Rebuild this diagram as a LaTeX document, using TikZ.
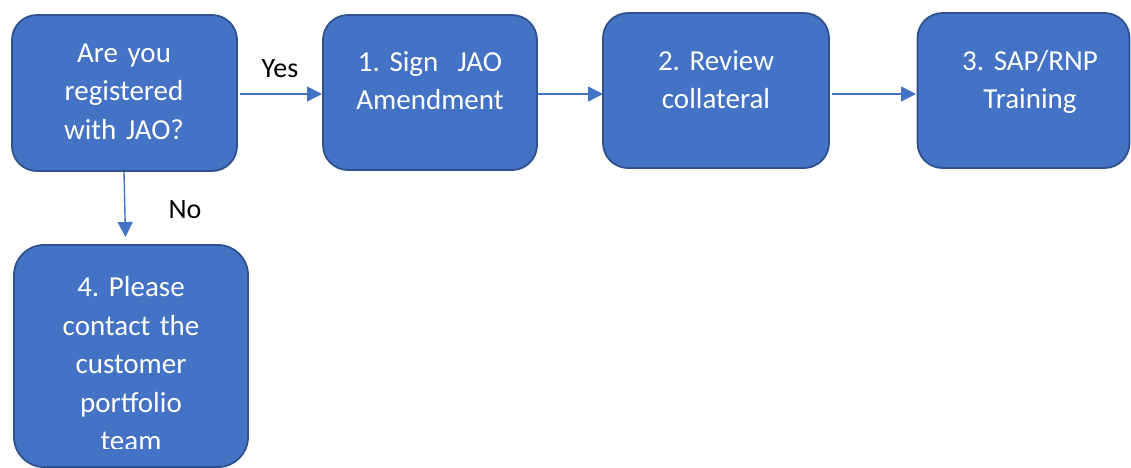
\documentclass[tikz,border=0pt]{standalone}
\usepackage{fontspec}
\setmainfont{Carlito}
\usetikzlibrary{arrows.meta}
\definecolor{boxfill}{HTML}{4472C4}
\definecolor{boxline}{HTML}{2F528F}
\definecolor{arrowc}{HTML}{4472C4}
\frenchspacing
\begin{document}
\begin{tikzpicture}[x=1pt,y=-1pt,
  stepbox/.style={draw=boxline, fill=boxfill, line width=1.8pt, rounded corners=25pt, inner sep=0pt},
  boxtext/.style={text=white, font=\fontsize{29}{38.5}\selectfont, text width=220pt, align=center, anchor=base, inner sep=0pt},
  lbl/.style={font=\fontsize{28}{34}\selectfont, anchor=base, inner sep=0pt},
  conn/.style={draw=arrowc, line width=1.4pt, -{Triangle[length=15pt,width=15pt]}}]
\useasboundingbox (0,0) rectangle (1131,467);
% boxes
\node[stepbox, minimum width=225pt, minimum height=156pt] (A) at (124.5,93) {};
\node[stepbox, minimum width=214pt, minimum height=155pt] (B) at (430,92.5) {};
\node[stepbox, minimum width=226pt, minimum height=155pt] (C) at (716,90.5) {};
\node[stepbox, minimum width=212pt, minimum height=155pt] (D) at (1023.5,90.5) {};
\node[stepbox, minimum width=234pt, minimum height=222pt, rounded corners=30pt] (E) at (131,356) {};
% texts
\node[boxtext] (At) at (124,62) {Are you\\registered\\with JAO?};
\node[boxtext] (Bt) at (430,71) {1. Sign\ \ JAO\\Amendment};
\node[boxtext] (Ct) at (716,70) {2. Review\\collateral};
\node[boxtext] (Dt) at (1030,70) {3. SAP/RNP\\Training};
\begin{scope}
\clip (0,0) rectangle (1131,448.5);
\node[boxtext] (Et) at (131,296.5) {4. Please\\contact the\\customer\\portfolio\\team};
\end{scope}
% connectors
\coordinate (Aout) at (240,94);
\coordinate (Bin) at (322,94);
\coordinate (Bout) at (537,94);
\coordinate (Cin) at (603,94);
\coordinate (Cout) at (832,94);
\coordinate (Din) at (916,94);
\coordinate (Adown) at (124,172);
\coordinate (Ein) at (125.5,237);
\draw[conn] (Aout) -- (Bin);
\draw[conn] (Bout) -- (Cin);
\draw[conn] (Cout) -- (Din);
\draw[conn] (Adown) -- (Ein);
% labels
\node[lbl] (yes) at (280,77) {Yes};
\node[lbl] (no) at (185,218) {No};
\end{tikzpicture}
\end{document}
